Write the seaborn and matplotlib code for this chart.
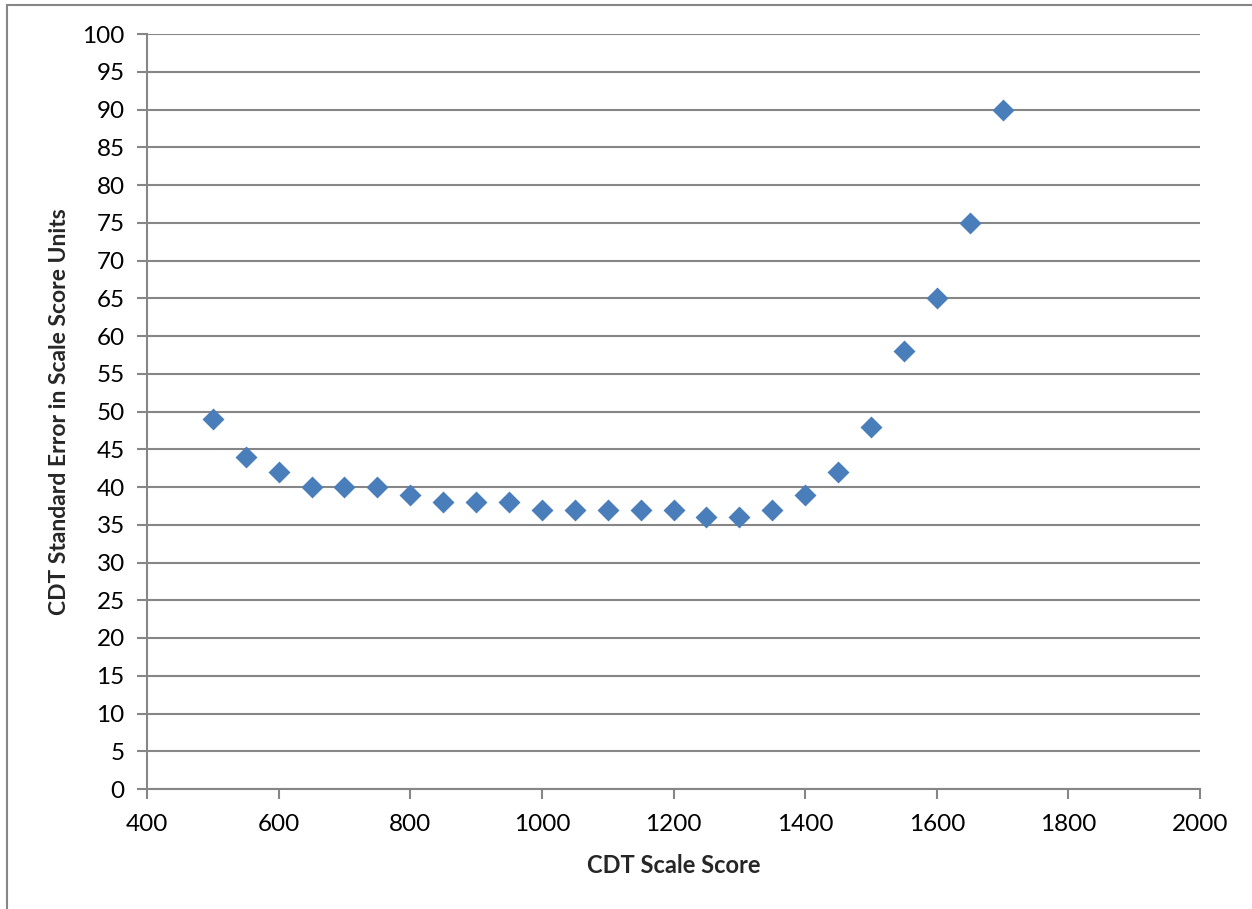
import matplotlib
matplotlib.use("Agg")
import matplotlib.pyplot as plt
import seaborn as sns
import pandas as pd
from matplotlib.patches import Rectangle

# data
scale_score = [500, 550, 600, 650, 700, 750, 800, 850, 900, 950, 1000, 1050,
               1100, 1150, 1200, 1250, 1300, 1350, 1400, 1450, 1500, 1550,
               1600, 1650, 1700]
std_error = [49, 44, 42, 40, 40, 40, 39, 38, 38, 38, 37, 37,
             37, 37, 37, 36, 36, 37, 39, 42, 48, 58,
             65, 75, 90]

df = pd.DataFrame({"score": scale_score, "se": std_error})

sns.set_style("white")
plt.rcParams['font.family'] = ['Lato', 'DejaVu Sans']

grey = "#868686"
fig = plt.figure(figsize=(12.52, 9.09), dpi=100)
ax = fig.add_axes([147 / 1252, 120 / 909, 1053 / 1252, 755 / 909])

sns.scatterplot(data=df, x="score", y="se", marker="D", s=125,
                color="#4A7EBB", edgecolor="#4A7EBB", linewidth=0, ax=ax, zorder=3)

ax.set_xlim(400, 2000)
ax.set_ylim(0, 100)
ax.set_xticks(range(400, 2001, 200))
ax.set_yticks(range(0, 101, 5))
ax.yaxis.grid(True, color=grey, linewidth=1.5)
ax.xaxis.grid(False)
for side in ["top", "right"]:
    ax.spines[side].set_visible(False)
for side in ["left", "bottom"]:
    ax.spines[side].set_color(grey)
    ax.spines[side].set_linewidth(1.5)
ax.tick_params(axis="both", direction="out", length=7, width=1.5, color=grey,
               labelsize=17.5, labelcolor="black", left=True, bottom=True)
ax.tick_params(axis="x", pad=11)
ax.tick_params(axis="y", pad=9)

ax.set_xlabel("CDT Scale Score", fontsize=17, fontweight="bold", labelpad=14)
ax.set_ylabel("CDT Standard Error in Scale Score Units", fontsize=16.5,
              fontweight="bold", labelpad=9)

# outer chart border like an Excel chart area
fig.patches.append(Rectangle((7 / 1252, -0.1), 1.2, (904 / 909) + 0.1,
                             transform=fig.transFigure, fill=False,
                             edgecolor=grey, linewidth=1.5))

fig.savefig("out.png", dpi=100)
